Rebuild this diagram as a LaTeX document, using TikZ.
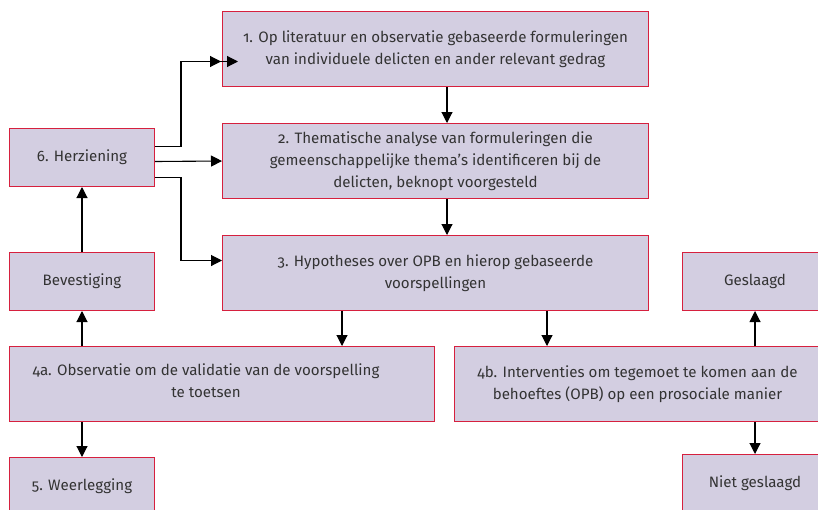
\documentclass[tikz,border=0pt]{standalone}
\usepackage{fontspec}
\setmainfont{Fira Sans}[Numbers=OldStyle]
\usetikzlibrary{arrows.meta}
\definecolor{boxfill}{RGB}{211,206,225}
\definecolor{boxline}{RGB}{214,32,62}
\definecolor{txt}{RGB}{51,51,51}
\tikzset{
  flowbox/.style={draw=boxline, fill=boxfill, line width=1pt, anchor=north west, inner sep=0pt,
    text=txt, align=center, font=\fontsize{15.1}{22}\selectfont},
  plaintext/.style={text=txt, align=center, inner sep=0pt, font=\fontsize{15.1}{22}\selectfont},
  arr/.style={line width=1.1pt, -{Triangle[length=11pt,width=11pt]}},
  dblarr/.style={line width=1.1pt, -{Triangle[length=11pt,width=11pt,sep=6pt]Triangle[length=11pt,width=11pt]}}
}
\begin{document}
\begin{tikzpicture}[x=1pt,y=-1pt]
\useasboundingbox (0,0) rectangle (818,509);
\clip (0,0) rectangle (818,509);
\node[flowbox, minimum width=426pt, minimum height=75pt] (b1) at (222,11)
  {1. Op literatuur en observatie gebaseerde formuleringen\\van individuele delicten en ander relevant gedrag};
\node[flowbox, minimum width=426pt, minimum height=75pt] (b2) at (222,123)
  {2. Thematische analyse van formuleringen die\\gemeenschappelijke thema’s identificeren bij de\\delicten, beknopt voorgesteld};
\node[flowbox, minimum width=426pt, minimum height=75pt] (b3) at (222,235)
  {3. Hypotheses over OPB en hierop gebaseerde\\voorspellingen};
\node[flowbox, minimum width=145pt, minimum height=58pt] (b6) at (9,128) {6. Herziening};
\node[flowbox, minimum width=145pt, minimum height=58pt] (bev) at (9,252) {Bevestiging};
\node[flowbox, minimum width=425pt, minimum height=75pt] (b4a) at (9,346) {};
\node[plaintext] (t4a) at (206,381) {4a. Observatie om de validatie van de voorspelling\\te toetsen};
\node[flowbox, minimum width=366pt, minimum height=75pt] (b4b) at (454,346)
  {4b. Interventies om tegemoet te komen aan de\\behoeftes (OPB) op een prosociale manier};
\node[flowbox, minimum width=145pt, minimum height=58pt] (ges) at (682,252) {Geslaagd};
\node[flowbox, minimum width=145pt, minimum height=58pt] (b5) at (9,457) {5. Weerlegging};
\node[flowbox, minimum width=145pt, minimum height=58pt] (ng) at (682,454) {Niet geslaagd};

\coordinate (k) at (181,0);
\coordinate (c447) at (447,0);
\coordinate (c342) at (342,0);
\coordinate (c547) at (547,0);
\coordinate (e1) at ([xshift=16pt,yshift=-12.5pt]b1.west);
\coordinate (e3) at ([yshift=12.5pt]b3.west);

\draw[arr] (c447 |- b1.south) -- (c447 |- b2.north);
\draw[arr] (c447 |- b2.south) -- (c447 |- b3.north);
\draw[arr] (c342 |- b3.south) -- (c342 |- b4a.north);
\draw[arr] (c547 |- b3.south) -- (c547 |- b4b.north);
\draw[arr] (bev.south |- b4a.north) -- (bev.south);
\draw[arr] (bev.north) -- (b6.south);
\draw[arr] (b5.north |- b4a.south) -- (b5.north);
\draw[arr] (ges.south |- b4b.north) -- (ges.south);
\draw[arr] (ng.north |- b4b.south) -- (ng.north);
\draw[dblarr] ([yshift=11pt]b6.east) -| (k |- e1) -- (e1);
\draw[arr] ([yshift=-4pt]b6.east) -- (b2.west);
\draw[arr] ([yshift=-20pt]b6.east) -| (k |- e3) -- (e3);
\end{tikzpicture}
\end{document}
